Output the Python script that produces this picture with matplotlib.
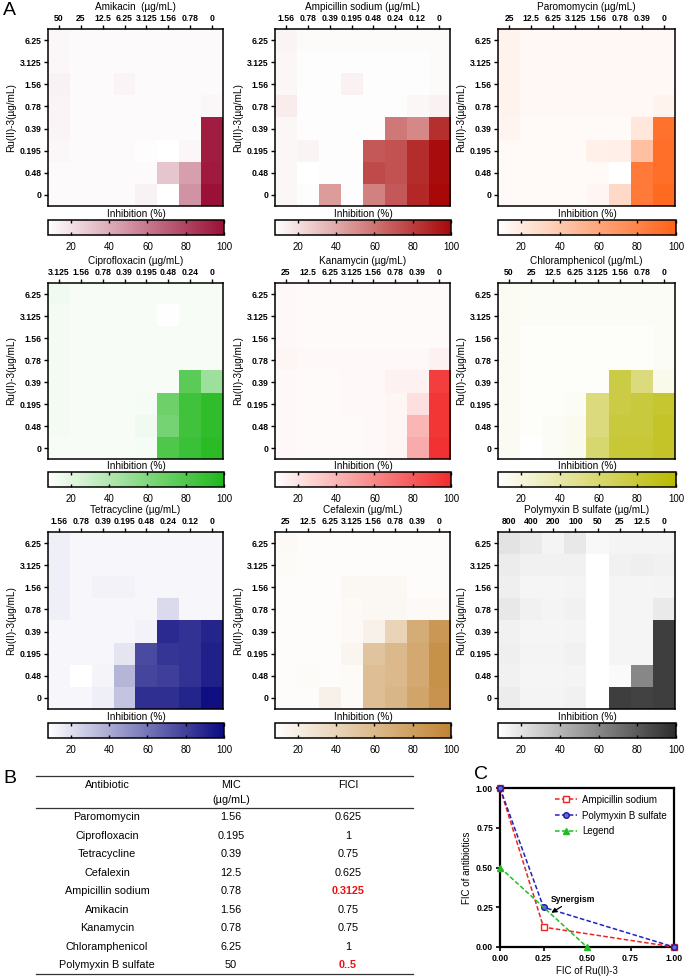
import matplotlib
matplotlib.use("Agg")
import matplotlib.pyplot as plt
import numpy as np
from matplotlib.colors import LinearSegmentedColormap

plt.rcParams['font.family'] = ['Liberation Sans', 'DejaVu Sans']

W, H = 685, 977

ru_labels = ["6.25", "3.125", "1.56", "0.78", "0.39", "0.195", "0.48", "0"]

amikacin_conc = ["50", "25", "12.5", "6.25", "3.125", "1.56", "0.78", "0"]
amikacin_vals = [
    [11, 10, 10, 10, 10, 10, 10, 10],
    [11, 10, 10, 10, 10, 10, 10, 10],
    [13, 10, 10, 12, 10, 10, 10, 10],
    [12, 10, 10, 10, 10, 10, 10, 11],
    [12, 10, 10, 10, 10, 10, 10, 95],
    [11, 10, 10, 10, 9, 8, 11, 95],
    [10, 10, 10, 10, 10, 30, 45, 96],
    [10, 10, 10, 10, 13, 8, 50, 100],
]

ampicillin_conc = ["1.56", "0.78", "0.39", "0.195", "0.48", "0.24", "0.12", "0"]
ampicillin_vals = [
    [12, 10, 10, 10, 10, 10, 10, 10],
    [11, 9, 9, 9, 9, 9, 9, 10],
    [11, 9, 9, 13, 9, 9, 9, 10],
    [15, 9, 9, 9, 9, 9, 11, 13],
    [11, 9, 9, 9, 9, 58, 52, 85],
    [11, 12, 9, 9, 70, 72, 86, 98],
    [11, 3, 9, 9, 75, 72, 86, 98],
    [11, 9, 45, 9, 55, 70, 88, 100],
]

paromomycin_conc = ["25", "12.5", "6.25", "3.125", "1.56", "0.78", "0.39", "0"]
paromomycin_vals = [
    [15, 12, 12, 12, 12, 12, 12, 12],
    [15, 12, 12, 12, 12, 12, 12, 12],
    [15, 12, 12, 12, 12, 12, 12, 12],
    [15, 12, 12, 12, 12, 12, 12, 15],
    [14, 11, 11, 11, 11, 11, 22, 90],
    [11, 11, 11, 11, 16, 17, 45, 92],
    [11, 11, 11, 11, 11, 0, 86, 92],
    [11, 11, 11, 11, 13, 30, 86, 95],
]

cipro_conc = ["3.125", "1.56", "0.78", "0.39", "0.195", "0.48", "0.24", "0"]
cipro_vals = [
    [14, 11, 11, 11, 11, 11, 11, 11],
    [13, 11, 11, 11, 11, 9, 11, 11],
    [13, 11, 11, 11, 11, 11, 11, 11],
    [13, 11, 11, 11, 11, 11, 11, 11],
    [13, 11, 11, 11, 11, 11, 75, 48],
    [13, 11, 11, 11, 12, 68, 86, 93],
    [13, 11, 11, 11, 14, 64, 86, 93],
    [11, 11, 11, 11, 12, 80, 88, 95],
]

kanamycin_conc = ["25", "12.5", "6.25", "3.125", "1.56", "0.78", "0.39", "0"]
kanamycin_vals = [
    [11, 10, 10, 10, 10, 10, 10, 10],
    [11, 10, 10, 10, 10, 10, 10, 10],
    [11, 10, 10, 10, 10, 10, 10, 10],
    [12, 11, 11, 11, 11, 11, 11, 14],
    [11, 10, 10, 11, 11, 14, 14, 92],
    [11, 10, 10, 11, 11, 12, 22, 95],
    [11, 10, 10, 10, 11, 12, 40, 95],
    [11, 10, 10, 10, 11, 12, 45, 97],
]

chloram_conc = ["50", "25", "12.5", "6.25", "3.125", "1.56", "0.78", "0"]
chloram_vals = [
    [12, 11, 11, 11, 11, 11, 11, 11],
    [12, 11, 11, 11, 11, 11, 11, 11],
    [12, 10, 10, 10, 10, 10, 10, 11],
    [12, 10, 10, 10, 10, 10, 10, 11],
    [12, 10, 10, 10, 10, 75, 55, 15],
    [12, 10, 10, 11, 55, 75, 78, 82],
    [12, 10, 11, 14, 55, 78, 78, 85],
    [12, 5, 11, 14, 60, 80, 80, 85],
]

tetra_conc = ["1.56", "0.78", "0.39", "0.195", "0.48", "0.24", "0.12", "0"]
tetra_vals = [
    [14, 11, 11, 11, 11, 11, 11, 11],
    [14, 11, 11, 11, 11, 11, 11, 11],
    [14, 11, 13, 13, 11, 11, 11, 11],
    [14, 11, 11, 11, 11, 22, 11, 11],
    [11, 11, 11, 11, 13, 88, 85, 90],
    [11, 11, 11, 18, 76, 84, 85, 92],
    [11, 6, 12, 36, 78, 80, 85, 92],
    [11, 11, 14, 30, 86, 86, 90, 98],
]

cefalexin_conc = ["25", "12.5", "6.25", "3.125", "1.56", "0.78", "0.39", "0"]
cefalexin_vals = [
    [12, 10, 10, 10, 10, 10, 10, 10],
    [11, 10, 10, 10, 10, 10, 10, 10],
    [10, 10, 10, 13, 13, 13, 10, 10],
    [10, 10, 10, 12, 13, 13, 12, 12],
    [10, 10, 10, 12, 18, 40, 70, 85],
    [10, 10, 10, 15, 52, 60, 72, 90],
    [10, 11, 10, 11, 56, 60, 72, 90],
    [10, 10, 18, 11, 56, 62, 75, 88],
]

polymyxin_conc = ["800", "400", "200", "100", "50", "25", "12.5", "0"]
polymyxin_vals = [
    [20, 17, 13, 18, 11, 13, 13, 13],
    [16, 14, 14, 14, 8, 14, 15, 14],
    [15, 12, 12, 13, 8, 12, 12, 13],
    [18, 14, 13, 14, 8, 12, 12, 17],
    [14, 12, 12, 13, 7, 12, 12, 92],
    [15, 13, 13, 14, 7, 12, 12, 92],
    [14, 12, 12, 13, 8, 10, 60, 92],
    [16, 13, 13, 14, 8, 92, 90, 92],
]

panels = [
    ("Amikacin  (\u00b5g/mL)", amikacin_conc, amikacin_vals, "#9b1036"),
    ("Ampicillin sodium (\u00b5g/mL)", ampicillin_conc, ampicillin_vals, "#a80808"),
    ("Paromomycin (\u00b5g/mL)", paromomycin_conc, paromomycin_vals, "#ff6216"),
    ("Ciprofloxacin (\u00b5g/mL)", cipro_conc, cipro_vals, "#1fb81a"),
    ("Kanamycin (\u00b5g/mL)", kanamycin_conc, kanamycin_vals, "#f22c2c"),
    ("Chloramphenicol (\u00b5g/mL)", chloram_conc, chloram_vals, "#b9b900"),
    ("Tetracycline (\u00b5g/mL)", tetra_conc, tetra_vals, "#0b0b80"),
    ("Cefalexin (\u00b5g/mL)", cefalexin_conc, cefalexin_vals, "#c08434"),
    ("Polymyxin B sulfate (\u00b5g/mL)", polymyxin_conc, polymyxin_vals, "#2c2c2c"),
]

cbar_ticks = [20, 40, 60, 80, 100]

# Table B data
antibiotics = ["Paromomycin", "Ciprofloxacin", "Tetracycline", "Cefalexin",
               "Ampicillin sodium", "Amikacin", "Kanamycin", "Chloramphenicol",
               "Polymyxin B sulfate"]
mic_values = ["1.56", "0.195", "0.39", "12.5", "0.78", "1.56", "0.78", "6.25", "50"]
fici_values = ["0.625", "1", "0.75", "0.625", "0.3125", "0.75", "0.75", "1", "0..5"]
fici_highlight = [False, False, False, False, True, False, False, False, True]

# Panel C data
fic_ru = [0.0, 0.25, 1.0]
fic_amp = [1.0, 0.125, 0.0]
fic_poly = [1.0, 0.25, 0.0]
legend_x = [0.0, 0.5]
legend_y = [0.5, 0.0]


def box(x0, y0, x1, y1):
    return [x0 / W, 1 - y1 / H, (x1 - x0) / W, (y1 - y0) / H]


fig = plt.figure(figsize=(W / 100, H / 100), dpi=100)

col_x = [(48, 223), (275, 450), (498, 675)]
row_y = [(29, 206, 220, 235), (283, 459, 472, 487), (532, 709, 723, 738)]

for i, (title, conc, vals, color) in enumerate(panels):
    r, c = divmod(i, 3)
    x0, x1 = col_x[c]
    y0, y1, cy0, cy1 = row_y[r]
    cmap = LinearSegmentedColormap.from_list("c%d" % i, ["#ffffff", color])
    ax = fig.add_axes(box(x0, y0, x1, y1))
    im = ax.imshow(np.array(vals, dtype=float), cmap=cmap, vmin=8, vmax=100,
                   aspect="auto", interpolation="nearest")
    ax.xaxis.tick_top()
    ax.xaxis.set_label_position("top")
    ax.set_xticks(range(8))
    ax.set_xticklabels(conc, fontsize=6.2, fontweight="bold")
    ax.set_yticks(range(8))
    ax.set_yticklabels(ru_labels, fontsize=6.2, fontweight="bold")
    ax.set_xlabel(title, fontsize=7.2, labelpad=3)
    ax.set_ylabel("Ru(II)-3(\u00b5g/mL)", fontsize=7.2, labelpad=3)
    ax.tick_params(length=3, width=1, pad=1.5)
    for s in ax.spines.values():
        s.set_linewidth(1.1)

    cax = fig.add_axes(box(x0, cy0, x1 + 1, cy1))
    cb = fig.colorbar(im, cax=cax, orientation="horizontal")
    cb.set_ticks(cbar_ticks)
    cax.tick_params(direction="in", top=True, bottom=True, length=2.5,
                    width=1, labelsize=7, pad=5)
    cax.xaxis.set_label_position("top")
    cax.set_xlabel("Inhibition (%)", fontsize=7.2, labelpad=2)
    cb.outline.set_linewidth(1.1)

# Panel letters
fig.text(3 / W, 1 - 2 / H, "A", fontsize=14, va="top", ha="left")
fig.text(3 / W, 1 - 770 / H, "B", fontsize=14, va="top", ha="left")
fig.text(474 / W, 1 - 766 / H, "C", fontsize=14, va="top", ha="left")

# Table B
tax = fig.add_axes([0, 0, 1, 1], facecolor="none")
tax.set_xlim(0, W)
tax.set_ylim(H, 0)
tax.axis("off")
for yl in (776, 808, 974):
    tax.plot([36, 413], [yl, yl], color="#333333", lw=0.9)
cx_ab, cx_mic, cx_fici = 107, 231, 348
tax.text(cx_ab, 785, "Antibiotic", fontsize=7.8, ha="center", va="center")
tax.text(cx_mic, 785, "MIC", fontsize=7.8, ha="center", va="center")
tax.text(cx_mic, 800, "(\u00b5g/mL)", fontsize=7.8, ha="center", va="center")
tax.text(cx_fici, 785, "FICI", fontsize=7.8, ha="center", va="center")
row_pos = [817, 836, 854, 873, 891, 910, 928, 947, 965]
for yy, name, mic, fici, hl in zip(row_pos, antibiotics, mic_values, fici_values, fici_highlight):
    tax.text(cx_ab, yy, name, fontsize=7.8, ha="center", va="center")
    tax.text(cx_mic, yy, mic, fontsize=7.8, ha="center", va="center")
    tax.text(cx_fici, yy, fici, fontsize=7.8, ha="center", va="center",
             color="#ee1111" if hl else "black",
             fontweight="bold" if hl else "normal")

# Panel C
cax2 = fig.add_axes(box(500, 788, 674, 947))
cax2.plot(fic_ru, fic_amp, ls=(0, (3, 1.5)), color="#ee2222", lw=1.1,
          marker="s", ms=4, mfc="white", mec="#ee2222", mew=1,
          clip_on=False, label="Ampicillin sodium", zorder=3)
cax2.plot(fic_ru, fic_poly, ls=(0, (3, 1.5)), color="#2222bb", lw=1.1,
          marker="o", ms=4, mfc="#6a6ad8", mec="#1a1aa0", mew=1,
          clip_on=False, label="Polymyxin B sulfate", zorder=3)
cax2.plot(legend_x, legend_y, ls=(0, (3, 1.5)), color="#22bb22", lw=1.1,
          marker="^", ms=4, mfc="#22bb22", mec="#22bb22",
          clip_on=False, label="Legend", zorder=3)
cax2.set_xlim(0, 1)
cax2.set_ylim(0, 1)
ticks = [0, 0.25, 0.5, 0.75, 1.0]
cax2.set_xticks(ticks)
cax2.set_yticks(ticks)
cax2.set_xticklabels(["0.00", "0.25", "0.50", "0.75", "1.00"], fontsize=6.2, fontweight="bold")
cax2.set_yticklabels(["0.00", "0.25", "0.50", "0.75", "1.00"], fontsize=6.2, fontweight="bold")
cax2.tick_params(length=3, width=1.2, pad=2)
for s in cax2.spines.values():
    s.set_linewidth(1.6)
cax2.set_xlabel("FIC of Ru(II)-3", fontsize=7, labelpad=2)
cax2.set_ylabel("FIC of antibiotics", fontsize=7, labelpad=3)
cax2.legend(loc="upper right", frameon=False, fontsize=7, handlelength=2.2,
            borderaxespad=0.3, labelspacing=0.6, handletextpad=0.6)
cax2.annotate("Synergism", xy=(0.295, 0.215), xytext=(0.29, 0.30),
              fontsize=6.2, fontweight="bold", ha="left", va="center",
              arrowprops=dict(arrowstyle="-|>", color="black", lw=0.9,
                              shrinkA=0, shrinkB=0, mutation_scale=7,
                              connectionstyle="arc3", relpos=(0.35, 0)))

fig.savefig("out.png", dpi=100)
